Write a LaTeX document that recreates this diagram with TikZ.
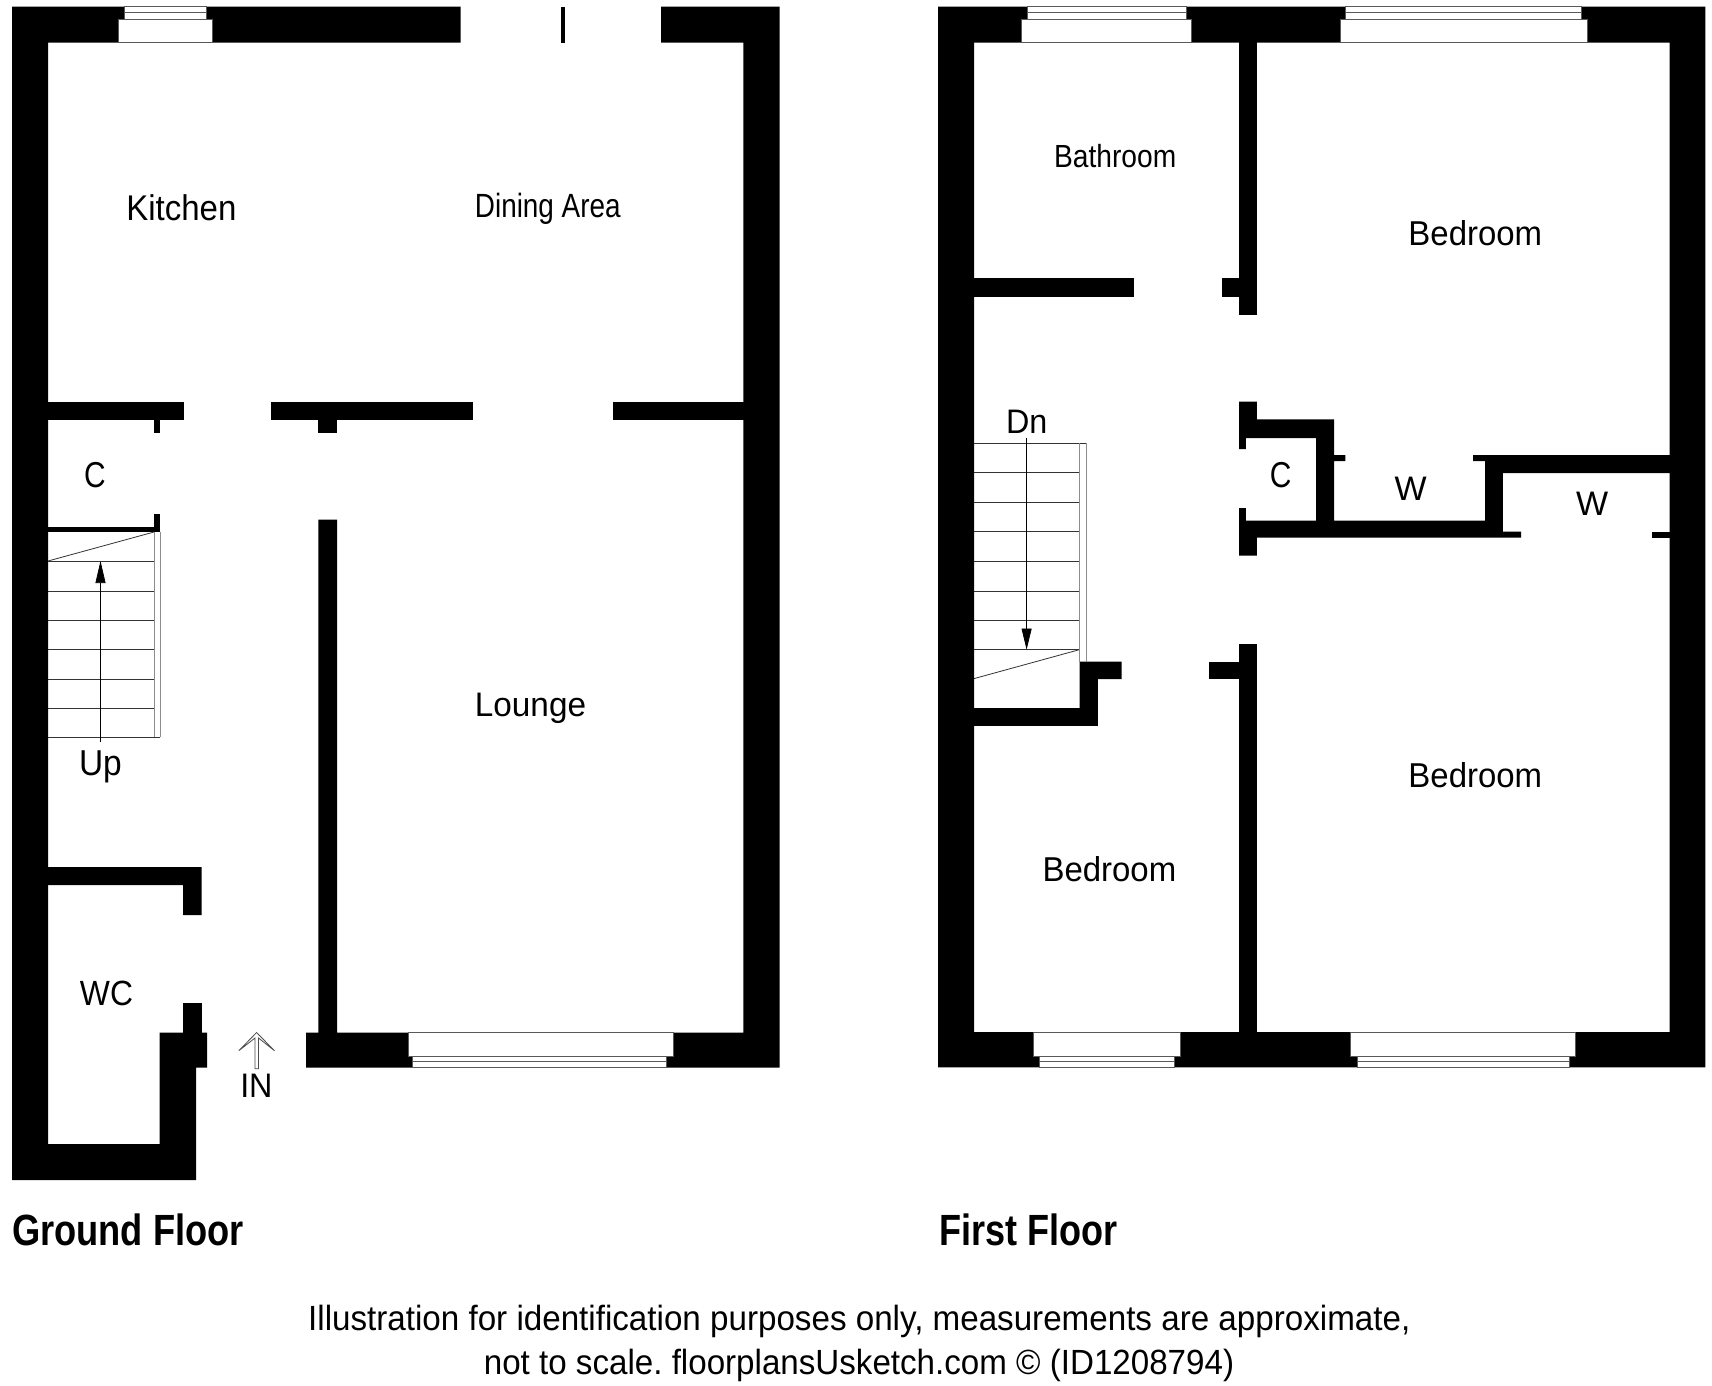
\documentclass[tikz,border=0pt]{standalone}
\usepackage{fontspec}
\setmainfont{Liberation Sans}
\usetikzlibrary{arrows.meta}
\tikzset{
    wall/.style={fill=black, draw=none},
    treadline/.style={draw=black!80, line width=0.8pt},
    railline/.style={draw=black!45, line width=0.8pt},
    paneline/.style={draw=black!65, fill=white, line width=0.9pt},
    roomtext/.style={anchor=base, inner sep=0pt, transform shape, xscale=#1},
    roomtext/.default=0.9,
}
\newcommand{\planfont}[1]{\fontsize{#1}{#1}\selectfont\frenchspacing}
\begin{document}
\begin{tikzpicture}[x=1pt, y=-1pt]
    \useasboundingbox[fill=white] (0,0) rectangle (1712,1385);
    % ground floor shell
    \fill[wall] (12.2,6.5) -- (460.7,6.5) -- (460.7,42.5) -- (48,42.5) -- (48,1144.2) -- (159.7,1144.2)
        -- (159.7,1032.5) -- (207.1,1032.5) -- (207.1,1067.7) -- (196,1067.7) -- (196,1180.2) -- (12.2,1180.2) -- cycle;
    \fill[wall] (661.2,6.5) -- (779.6,6.5) -- (779.6,1067.7) -- (306,1067.7) -- (306,1032.5) -- (318.4,1032.5)
        -- (318.4,519.7) -- (337.2,519.7) -- (337.2,1032.5) -- (743.4,1032.5) -- (743.4,42.5) -- (661.2,42.5) -- cycle;
    % ground floor inner walls
    \foreach \xa/\ya/\xb/\yb in {561.2/6.5/564.8/42.5, 47/401.5/183.7/420.2, 271.4/401.5/473/420.2,
        613.3/401.5/744/420.2, 154/419/160.2/432.5, 318.4/419/337.2/432.5, 154/514/160.2/532,
        47/526.6/160.2/532, 183.2/1003/201.5/1033}
        \fill[wall] (\xa,\ya) rectangle (\xb,\yb);
    \fill[wall] (47,867) -- (201.5,867) -- (201.5,915) -- (183.2,915) -- (183.2,885) -- (47,885) -- cycle;
    % first floor shell
    \fill[wall, even odd rule] (938.2,6.5) rectangle (1705.3,1067.4) (974,42.5) rectangle (1669.5,1032.1);
    % first floor inner walls
    \foreach \xa/\ya/\xb/\yb in {1239.2/42/1256.9/314.6, 973/278.2/1133.6/296.6, 1221.5/278.2/1240/296.6,
        1651.8/531.6/1670/537.7, 1208.9/661.6/1240/679, 1239.2/643.8/1256.9/1033}
        \fill[wall] (\xa,\ya) rectangle (\xb,\yb);
    \fill[wall] (1239.2,401.5) -- (1256.9,401.5) -- (1256.9,419.4) -- (1334.1,419.4) -- (1334.1,455) -- (1345.3,455)
        -- (1345.3,461.2) -- (1334.1,461.2) -- (1334.1,520.5) -- (1485.2,520.5) -- (1485.2,461.2) -- (1473,461.2)
        -- (1473,455) -- (1670,455) -- (1670,473) -- (1502.8,473) -- (1502.8,531.6) -- (1521,531.6) -- (1521,537.7)
        -- (1256.9,537.7) -- (1256.9,555.7) -- (1239.2,555.7) -- (1239.2,508.2) -- (1245.8,508.2) -- (1245.8,520.5)
        -- (1316,520.5) -- (1316,438.2) -- (1245.8,438.2) -- (1245.8,449) -- (1239.2,449) -- cycle;
    \fill[wall] (973,708) -- (1079.6,708) -- (1079.6,661.6) -- (1121.5,661.6) -- (1121.5,679) -- (1097.8,679)
        -- (1097.8,725.9) -- (973,725.9) -- cycle;
    % windows in the top walls
    \foreach \xa/\xb/\xc/\xd in {118.3/124/206.3/212, 1021/1027.1/1186.2/1191.7, 1340.2/1345.8/1581.6/1587.2} {
        \draw[paneline] (\xb,6.5) rectangle (\xc,19.5);
        \draw[paneline] (\xb,12.5) -- (\xc,12.5);
        \draw[paneline] (\xa,19.5) rectangle (\xd,42.5);
    }
    % windows in the bottom walls
    \foreach \xa/\xb/\xc/\xd in {408.2/412.8/666.3/673, 1033.1/1039.2/1174.5/1180.1, 1350.8/1357.9/1569/1575} {
        \draw[paneline] (\xb,1056.2) rectangle (\xc,1067.5);
        \draw[paneline] (\xb,1061.5) -- (\xc,1061.5);
        \draw[paneline] (\xa,1032.5) rectangle (\xd,1056.2);
    }
    % stairs up
    \foreach \y in {561,591,620,649,679,708,737}
        \draw[treadline] (48,\y) -- (154,\y);
    \draw[treadline] (48,561) -- (154,532);
    \draw[treadline] (154,737) -- (160.2,737);
    \draw[railline] (154,532) -- (154,737) (160.2,532) -- (160.2,737);
    \coordinate (upfoot) at (100.5,742.4);
    \coordinate (uphead) at (100.5,561);
    \draw[black, line width=0.7pt, -{Triangle[length=22pt, width=10pt]}] (upfoot) -- (uphead);
    % stairs down
    \foreach \y in {443.3,472.3,502.2,531.7,561.6,591.5,620.5,649.6}
        \draw[treadline] (974,\y) -- (1079.6,\y);
    \draw[treadline] (974,678.6) -- (1079.6,649.6);
    \draw[treadline] (1079.6,443.3) -- (1086.2,443.3);
    \draw[railline] (1079.6,443.3) -- (1079.6,661.6) (1086.2,443.3) -- (1086.2,661.6);
    \coordinate (dnfoot) at (1026.6,438);
    \coordinate (dnhead) at (1026.6,649.6);
    \draw[black, line width=0.7pt, -{Triangle[length=21pt, width=10pt]}] (dnfoot) -- (dnhead);
    % entrance arrow
    \coordinate (inhead) at (256.6,1032.5);
    \draw[black!70, line width=0.8pt, fill=white] (inhead) -- (274.5,1050.7) -- (258.5,1038) -- (258.5,1068.8)
        -- (255,1068.8) -- (255,1038) -- (238.8,1050.7) -- cycle;
    % room names
    \node[roomtext=0.925, font=\planfont{35.7}] (kitchen) at (181.4,220.4) {Kitchen};
    \node[roomtext=0.83, font=\planfont{33.6}] (dining) at (547.8,217.6) {Dining Area};
    \node[roomtext=0.83, font=\planfont{36}] (cupboarda) at (94.8,487.5) {C};
    \node[roomtext=0.93, font=\planfont{36}] (upword) at (100.4,775.8) {Up};
    \node[roomtext=0.98, font=\planfont{34}] (lounge) at (530.5,716.3) {Lounge};
    \node[roomtext=0.91, font=\planfont{35}] (wc) at (106.5,1005.5) {WC};
    \node[roomtext=0.95, font=\planfont{34}] (inword) at (256.4,1097.5) {IN};
    \node[roomtext=0.88, font=\planfont{32}] (bathroom) at (1115.2,167) {Bathroom};
    \node[roomtext=0.955, font=\planfont{34.5}] (bedrooma) at (1475.3,245.6) {Bedroom};
    \node[roomtext=0.955, font=\planfont{34.5}] (bedroomb) at (1475.3,787) {Bedroom};
    \node[roomtext=0.955, font=\planfont{34.5}] (bedroomc) at (1109.4,881.5) {Bedroom};
    \node[roomtext=0.95, font=\planfont{34}] (dnword) at (1026.8,433.6) {Dn};
    \node[roomtext=0.83, font=\planfont{36}] (cupboardb) at (1280.6,487.5) {C};
    \node[roomtext=1, font=\planfont{34}] (wardrobea) at (1410.6,500) {W};
    \node[roomtext=1, font=\planfont{34}] (wardrobeb) at (1592.2,515.2) {W};
    % floor names and note
    \node[roomtext=0.83, font=\planfont{43.7}\bfseries] (groundname) at (128,1245) {Ground Floor};
    \node[roomtext=0.825, font=\planfont{43.7}\bfseries] (firstname) at (1028.3,1245) {First Floor};
    \node[roomtext=0.948, font=\planfont{35}] (notea) at (859.3,1330.5) {Illustration for identification purposes only, measurements are approximate,};
    \node[roomtext=0.947, font=\planfont{35}] (noteb) at (859,1374.5) {not to scale. floorplansUsketch.com © (ID1208794)};
\end{tikzpicture}
\end{document}
